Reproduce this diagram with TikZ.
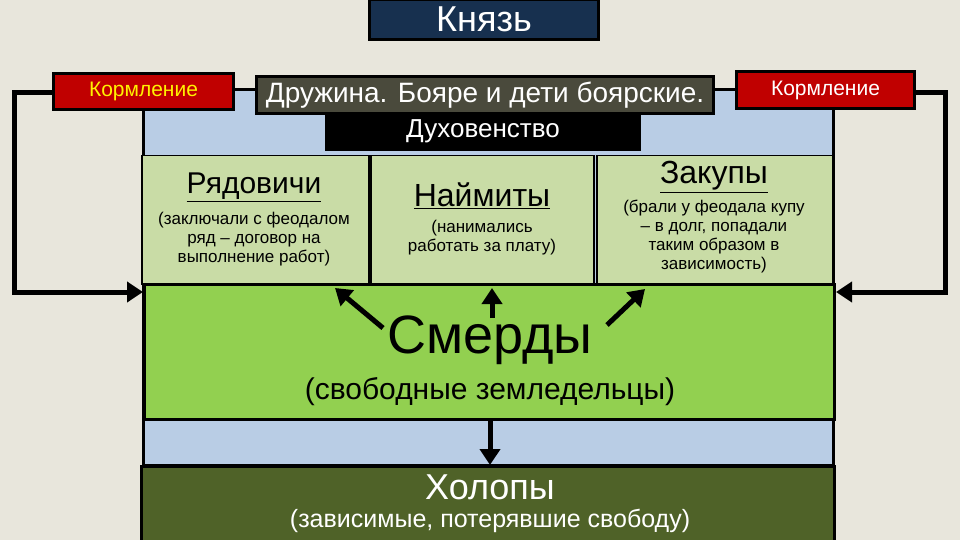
\documentclass[tikz,border=0pt]{standalone}
\usepackage{fontspec}
\setmainfont{Liberation Sans}
\usetikzlibrary{arrows.meta}
\definecolor{bg}{HTML}{E8E6DC}
\definecolor{lblue}{HTML}{B9CDE5}
\definecolor{lgreen}{HTML}{C9DCA6}
\definecolor{mgreen}{HTML}{92D050}
\definecolor{olive}{HTML}{4F6228}
\definecolor{navy}{HTML}{17304F}
\definecolor{kred}{HTML}{C00000}
\definecolor{dgray}{HTML}{4A4A3C}
\begin{document}
\begin{tikzpicture}[x=1pt,y=-1pt,
  box/.style={draw=black,line width=3pt,inner sep=0pt},
  thin/.style={draw=black,line width=1.5pt,inner sep=0pt},
  arr/.style={line width=5pt,-{Triangle[length=16pt,width=20pt]}}]
\useasboundingbox (0,0) rectangle (960,540);
\fill[bg] (0,0) rectangle (960,540);
\fill[lblue,draw=black,line width=3pt] (143,90) rectangle (833,465);
\node[box,fill=navy,minimum width=229pt,minimum height=40pt,anchor=north west,text=white,font=\fontsize{36}{36}\selectfont] (knyaz) at (368,-2) {Князь};
\node[box,fill=kred,minimum width=180pt,minimum height=36pt,anchor=north west,text=yellow,font=\fontsize{21}{21}\selectfont] (kl) at (52,72) {Кормление};
\node[box,fill=kred,minimum width=178pt,minimum height=37pt,anchor=north west,text=white,font=\fontsize{21}{21}\selectfont] (kr) at (735,70) {Кормление};
\node[box,fill=dgray,minimum width=457pt,minimum height=37pt,anchor=north west,text=white,font=\fontsize{28}{28}\selectfont] (dr) at (255,75) {Дружина. Бояре и дети боярские.};
\node[box,fill=black,minimum width=313pt,minimum height=36pt,anchor=north west,text=white,font=\fontsize{26}{26}\selectfont] (dux) at (325,112) {Духовенство};
\node[thin,fill=lgreen,minimum width=227pt,minimum height=128pt,anchor=north west] (r) at (141,155) {};
\node[thin,fill=lgreen,minimum width=223pt,minimum height=128pt,anchor=north west] (n) at (370,155) {};
\node[thin,fill=lgreen,minimum width=236pt,minimum height=128pt,anchor=north west] (z) at (596,155) {};
\node[font=\fontsize{30}{30}\selectfont] (rt) at (254,187) {\underline{Рядовичи}};
\node[font=\fontsize{17}{19}\selectfont,align=center] (rs) at (254,239) {(заключали с феодалом\\ряд – договор на\\выполнение работ)};
\node[font=\fontsize{32}{32}\selectfont] (nt) at (482,196) {\underline{Наймиты}};
\node[font=\fontsize{17}{19}\selectfont,align=center] (ns) at (482,238) {(нанимались\\работать за плату)};
\node[font=\fontsize{32}{32}\selectfont] (zt) at (714,177) {\underline{Закупы}};
\node[font=\fontsize{17}{19}\selectfont,align=center] (zs) at (714,237) {(брали у феодала купу\\– в долг, попадали\\таким образом в\\зависимость)};
\node[box,fill=mgreen,minimum width=690pt,minimum height=135pt,anchor=north west] (sm) at (143,283) {};
\node[font=\fontsize{54}{54}\selectfont] (smt) at (490,340) {Смерды};
\node[font=\fontsize{30}{30}\selectfont] (sms) at (490,392) {(свободные земледельцы)};
\node[box,fill=olive,minimum width=693pt,minimum height=75pt,anchor=north west] (hol) at (140,465) {};
\node[font=\fontsize{36}{36}\selectfont,text=white] (ht) at (490,487) {Холопы};
\node[font=\fontsize{25}{25}\selectfont,text=white] (hs) at (490,521) {(зависимые, потерявшие свободу)};
\coordinate (a1) at (383,328); \coordinate (a1e) at (335,288);
\coordinate (a2) at (492,318); \coordinate (a2e) at (492,288);
\coordinate (a3) at (607,325); \coordinate (a3e) at (645,289);
\draw[arr] (a1) -- (a1e);
\draw[arr] (a2) -- (a2e);
\draw[arr] (a3) -- (a3e);
\draw[arr] (sm.south -| smt) -- (hol.north -| smt);
\draw[arr] (kl.west |- 0,93) -| (14,292) -- (sm.west |- 0,292);
\draw[arr] (kr.east |- 0,93) -| (945,292) -- (sm.east |- 0,292);
\end{tikzpicture}
\end{document}
